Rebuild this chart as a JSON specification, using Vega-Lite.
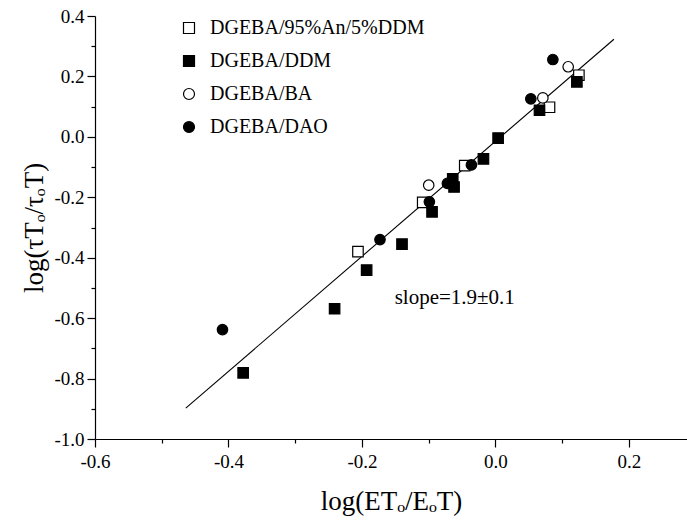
{
  "$schema": "https://vega.github.io/schema/vega-lite/v6.json",
  "width": 592,
  "height": 423,
  "autosize": {"type": "none"},
  "padding": {"left": 95, "top": 16, "right": 0, "bottom": 82},
  "background": "white",
  "config": {
    "view": {"stroke": null},
    "font": "Liberation Serif",
    "text": {"font": "Liberation Serif"},
    "legend": {"labelFont": "Liberation Serif"},
    "axis": {
      "domainColor": "black",
      "domainWidth": 1.2,
      "tickColor": "black",
      "tickWidth": 1.2,
      "grid": false,
      "labelFont": "Liberation Serif",
      "labelColor": "black",
      "labelFontSize": 19,
      "titleFont": "Liberation Serif",
      "titleColor": "black",
      "titleFontWeight": "normal",
      "titleFontSize": 27
    }
  },
  "datasets": {
    "fit": [
      {"x": -0.464, "y": -0.898},
      {"x": 0.1775, "y": 0.323}
    ],
    "pts": [
      {"series": "DGEBA/95%An/5%DDM", "x": 0.125, "y": 0.204},
      {"series": "DGEBA/95%An/5%DDM", "x": 0.081, "y": 0.098},
      {"series": "DGEBA/95%An/5%DDM", "x": -0.046, "y": -0.095},
      {"series": "DGEBA/95%An/5%DDM", "x": -0.109, "y": -0.217},
      {"series": "DGEBA/95%An/5%DDM", "x": -0.206, "y": -0.38},
      {"series": "DGEBA/DDM", "x": 0.122, "y": 0.182},
      {"series": "DGEBA/DDM", "x": 0.066, "y": 0.088},
      {"series": "DGEBA/DDM", "x": 0.004, "y": -0.004},
      {"series": "DGEBA/DDM", "x": -0.018, "y": -0.073},
      {"series": "DGEBA/DDM", "x": -0.064, "y": -0.139},
      {"series": "DGEBA/DDM", "x": -0.062, "y": -0.166},
      {"series": "DGEBA/DDM", "x": -0.095, "y": -0.248},
      {"series": "DGEBA/DDM", "x": -0.14, "y": -0.355},
      {"series": "DGEBA/DDM", "x": -0.193, "y": -0.441},
      {"series": "DGEBA/DDM", "x": -0.241, "y": -0.569},
      {"series": "DGEBA/DDM", "x": -0.378, "y": -0.781},
      {"series": "DGEBA/BA", "x": 0.109, "y": 0.232},
      {"series": "DGEBA/BA", "x": 0.071, "y": 0.129},
      {"series": "DGEBA/BA", "x": -0.1, "y": -0.16},
      {"series": "DGEBA/DAO", "x": 0.086, "y": 0.256},
      {"series": "DGEBA/DAO", "x": 0.053, "y": 0.126},
      {"series": "DGEBA/DAO", "x": -0.036, "y": -0.093},
      {"series": "DGEBA/DAO", "x": -0.072, "y": -0.154},
      {"series": "DGEBA/DAO", "x": -0.099, "y": -0.215},
      {"series": "DGEBA/DAO", "x": -0.173, "y": -0.34},
      {"series": "DGEBA/DAO", "x": -0.409, "y": -0.638}
    ],
    "note": [
      {"x": -0.151, "y": -0.534, "label": "slope=1.9±0.1"}
    ]
  },
  "encoding": {
    "x": {
      "field": "x",
      "type": "quantitative",
      "scale": {"domain": [-0.6, 0.287], "nice": false, "zero": false},
      "axis": {
        "title": "log(ETₒ/EₒT)",
        "values": [-0.6, -0.5, -0.4, -0.3, -0.2, -0.1, 0, 0.1, 0.2],
        "labelExpr": "abs(round(datum.value*10))%2==1 ? '' : replace(format(datum.value,'.1f'),'−','-')",
        "tickSize": {"condition": {"test": "abs(round(datum.value*10))%2==1", "value": 4}, "value": 8},
        "labelFont": "Liberation Serif",
        "titleFont": "Liberation Serif",
        "labelPadding": 5,
        "titlePadding": 17,
        "labelFlush": false,
        "labelOverlap": false
      }
    },
    "y": {
      "field": "y",
      "type": "quantitative",
      "scale": {"domain": [-1.0, 0.4], "nice": false, "zero": false},
      "axis": {
        "title": "log(τTₒ/τₒT)",
        "values": [-1.0, -0.9, -0.8, -0.7, -0.6, -0.5, -0.4, -0.3, -0.2, -0.1, 0, 0.1, 0.2, 0.3, 0.4],
        "labelExpr": "abs(round(datum.value*10))%2==1 ? '' : replace(format(datum.value,'.1f'),'−','-')",
        "tickSize": {"condition": {"test": "abs(round(datum.value*10))%2==1", "value": 4}, "value": 8},
        "labelFont": "Liberation Serif",
        "titleFont": "Liberation Serif",
        "labelPadding": 3,
        "titlePadding": 5,
        "labelFlush": false,
        "labelOverlap": false
      }
    }
  },
  "layer": [
    {
      "data": {"name": "fit"},
      "mark": {"type": "line", "color": "black", "strokeWidth": 1.1},
      "encoding": {}
    },
    {
      "data": {"name": "pts"},
      "mark": {"type": "point", "filled": true, "strokeWidth": 1.2, "size": 110, "opacity": 1},
      "encoding": {
        "shape": {
          "field": "series",
          "type": "nominal",
          "scale": {
            "domain": ["DGEBA/95%An/5%DDM", "DGEBA/DDM", "DGEBA/BA", "DGEBA/DAO"],
            "range": ["square", "square", "circle", "circle"]
          },
          "legend": {
            "title": null,
            "orient": "none",
            "legendX": 84,
            "legendY": 2,
            "padding": 0,
            "labelFont": "Liberation Serif",
            "labelFontSize": 20,
            "labelColor": "black",
            "labelLimit": 400,
            "labelOffset": 11,
            "rowPadding": 13,
            "symbolSize": 121,
            "symbolStrokeWidth": 1.2
          }
        },
        "fill": {
          "field": "series",
          "type": "nominal",
          "scale": {
            "domain": ["DGEBA/95%An/5%DDM", "DGEBA/DDM", "DGEBA/BA", "DGEBA/DAO"],
            "range": ["white", "black", "white", "black"]
          },
          "legend": {
            "title": null,
            "orient": "none",
            "legendX": 84,
            "legendY": 2,
            "padding": 0,
            "labelFont": "Liberation Serif",
            "labelFontSize": 20,
            "labelColor": "black",
            "labelLimit": 400,
            "labelOffset": 11,
            "rowPadding": 13,
            "symbolSize": 121,
            "symbolStrokeWidth": 1.2
          }
        },
        "stroke": {
          "field": "series",
          "type": "nominal",
          "scale": {
            "domain": ["DGEBA/95%An/5%DDM", "DGEBA/DDM", "DGEBA/BA", "DGEBA/DAO"],
            "range": ["black", "black", "black", "black"]
          },
          "legend": {
            "title": null,
            "orient": "none",
            "legendX": 84,
            "legendY": 2,
            "padding": 0,
            "labelFont": "Liberation Serif",
            "labelFontSize": 20,
            "labelColor": "black",
            "labelLimit": 400,
            "labelOffset": 11,
            "rowPadding": 13,
            "symbolSize": 121,
            "symbolStrokeWidth": 1.2
          }
        }
      }
    },
    {
      "data": {"name": "note"},
      "mark": {"type": "text", "align": "left", "baseline": "middle", "font": "Liberation Serif", "fontSize": 21, "color": "black"},
      "encoding": {"text": {"field": "label"}}
    }
  ]
}
